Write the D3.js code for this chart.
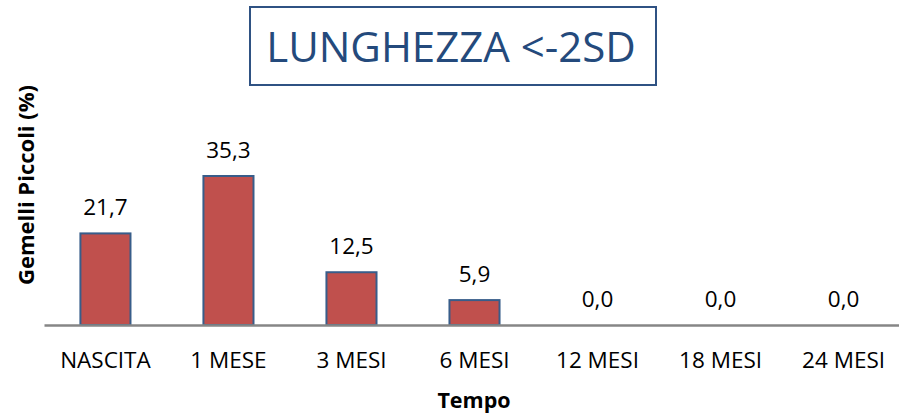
<!DOCTYPE html>
<html>
<head>
<meta charset="utf-8">
<script src="https://cdn.jsdelivr.net/npm/d3@7"></script>
<style>
  html, body { margin: 0; padding: 0; background: #fff; }
  svg { display: block; }
  text { font-family: "Open Sans", sans-serif; }
</style>
</head>
<body>
<svg id="chart" width="899" height="417"></svg>
<script>
const categories = ["NASCITA", "1 MESE", "3 MESI", "6 MESI", "12 MESI", "18 MESI", "24 MESI"];
const values = [21.7, 35.3, 12.5, 5.9, 0.0, 0.0, 0.0];
const titleText = "LUNGHEZZA <-2SD";
const yTitle = "Gemelli Piccoli (%)";
const xTitle = "Tempo";

const svg = d3.select("#chart");
const left = 44, right = 905, baseY = 325;

const x = d3.scaleBand().domain(categories).range([left, right]).paddingInner(0.593).paddingOuter(0.296);
const y = d3.scaleLinear().domain([0, 35.3]).range([baseY, 176]);

const fmt = v => d3.format(".1f")(v).replace(".", ",");

// bars
svg.append("g").selectAll("rect").data(values).join("rect")
  .attr("x", (d, i) => x(categories[i]))
  .attr("y", d => y(d))
  .attr("width", x.bandwidth())
  .attr("height", d => baseY - y(d))
  .attr("fill", "#c0504d")
  .attr("stroke", "#385d8a")
  .attr("stroke-width", 2);

// x axis
const xAxis = d3.axisBottom(x).tickSize(0).tickPadding(0);
const gx = svg.append("g").attr("transform", `translate(0,${baseY})`).call(xAxis);
gx.select(".domain").attr("stroke", "#868686").attr("stroke-width", 2.5);
gx.selectAll(".tick text")
  .attr("y", 43)
  .attr("dy", 0)
  .attr("fill", "#000")
  .style("font-size", "22.5px")
  .style("font-family", "'Open Sans', sans-serif");

// value labels
svg.append("g").selectAll("text").data(values).join("text")
  .attr("x", (d, i) => x(categories[i]) + x.bandwidth() / 2)
  .attr("y", d => y(d) - 18)
  .attr("text-anchor", "middle")
  .attr("fill", "#000")
  .style("font-size", "22.5px")
  .text(d => fmt(d));

// title box
const tb = svg.append("g");
tb.append("rect")
  .attr("x", 250).attr("y", 7).attr("width", 406).attr("height", 78)
  .attr("fill", "#fff").attr("stroke", "#2f5283").attr("stroke-width", 2);
tb.append("text")
  .attr("x", 451).attr("y", 62)
  .attr("text-anchor", "middle")
  .attr("fill", "#244a7c")
  .style("font-size", "42px")
  .text(titleText);

// axis titles
svg.append("text")
  .attr("transform", `translate(34,185) rotate(-90)`)
  .attr("text-anchor", "middle")
  .attr("fill", "#000")
  .style("font-size", "22px")
  .style("font-weight", "bold")
  .text(yTitle);

svg.append("text")
  .attr("x", 474).attr("y", 408)
  .attr("text-anchor", "middle")
  .attr("fill", "#000")
  .style("font-size", "21.5px")
  .style("font-weight", "bold")
  .text(xTitle);
</script>
</body>
</html>
